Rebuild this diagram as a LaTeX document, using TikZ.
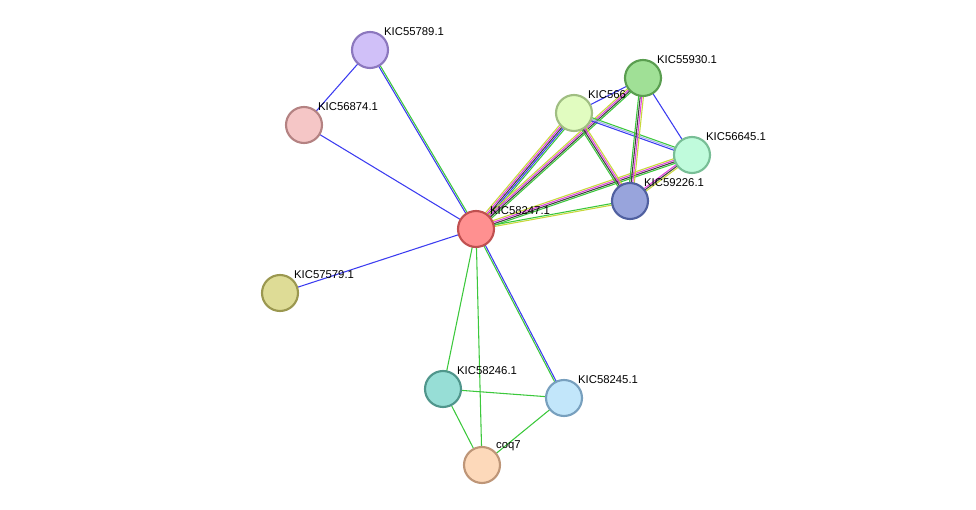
\documentclass[tikz,border=0pt]{standalone}
\usepackage{fontspec}
\setmainfont{Liberation Sans}
\usetikzlibrary{calc,backgrounds}
\definecolor{sgreen}{HTML}{3CC83C}
\definecolor{sblue}{HTML}{3C3CF0}
\definecolor{sblack}{HTML}{404040}
\definecolor{smag}{HTML}{E040E0}
\definecolor{syel}{HTML}{C8D83C}
\definecolor{slblue}{HTML}{A8B4F0}
\tikzset{
  prot/.style={circle, minimum size=36*0.75pt, inner sep=0, line width=1.6pt,
    label={[font=\fontsize{8.5}{9}\selectfont, inner sep=1pt, label distance=-1pt]45:#1}},
  edge/.style={line width=0.8pt}
}
\newcommand\link[3]{%
  \foreach \c [count=\i] in {#3} {\global\let\nlink\i}
  \foreach \c [count=\i] in {#3} {
    \pgfmathsetmacro\off{(\i-(\nlink+1)/2)*1.2}
    \draw[edge,\c] ($(#1)!\off pt!90:(#2)$) -- ($(#2)!\off pt!-90:(#1)$);
  }}
\begin{document}
\begin{tikzpicture}[x=0.75pt,y=-0.75pt]
\useasboundingbox (0,0) rectangle (976,510);
% proteins
\node[prot=KIC55789.1, fill={rgb,255:red,208;green,192;blue,248}, draw={rgb,255:red,140;green,120;blue,190}] (p55789) at (370,50) {};
\node[prot=KIC56874.1, fill={rgb,255:red,245;green,198;blue,198}, draw={rgb,255:red,180;green,130;blue,130}] (p56874) at (304,125) {};
\node[prot=KIC58247.1, fill={rgb,255:red,255;green,144;blue,144}, draw={rgb,255:red,192;green,80;blue,80}] (p58247) at (476,229) {};
\node[prot=KIC57579.1, fill={rgb,255:red,222;green,220;blue,150}, draw={rgb,255:red,155;green,152;blue,80}] (p57579) at (280,293) {};
\node[prot=KIC58246.1, fill={rgb,255:red,151;green,222;blue,214}, draw={rgb,255:red,80;green,150;blue,140}] (p58246) at (443,389) {};
\node[prot=KIC58245.1, fill={rgb,255:red,194;green,230;blue,250}, draw={rgb,255:red,120;green,160;blue,190}] (p58245) at (564,398) {};
\node[prot=coq7, fill={rgb,255:red,253;green,217;blue,186}, draw={rgb,255:red,190;green,150;blue,120}] (pcoq7) at (482,465) {};
\node[prot=KIC566, fill={rgb,255:red,225;green,252;blue,192}, draw={rgb,255:red,160;green,190;blue,130}] (p566) at (574,113) {};
\node[prot=KIC55930.1, fill={rgb,255:red,160;green,224;blue,150}, draw={rgb,255:red,90;green,158;blue,80}] (p55930) at (643,78) {};
\node[prot=KIC56645.1, fill={rgb,255:red,192;green,251;blue,220}, draw={rgb,255:red,120;green,190;blue,150}] (p56645) at (692,155) {};
\node[prot=KIC59226.1, fill={rgb,255:red,152;green,164;blue,220}, draw={rgb,255:red,80;green,96;blue,160}] (p59226) at (630,201) {};
% links
\begin{scope}[on background layer]
\link{p58247}{p55789}{sgreen,sblue}
\link{p58247}{p56874}{sblue}
\link{p56874}{p55789}{sblue}
\link{p58247}{p57579}{sblue}
\link{p58247}{p58246}{sgreen}
\link{p58247}{p58245}{sgreen,sblue}
\link{p58247}{pcoq7}{sgreen}
\link{p58246}{p58245}{sgreen}
\link{p58246}{pcoq7}{sgreen}
\link{p58245}{pcoq7}{sgreen}
\link{p58247}{p566}{sgreen,sblue,sblack,smag,syel}
\link{p58247}{p55930}{sgreen,sblack,smag,syel}
\link{p58247}{p56645}{sgreen,sblack,smag,syel}
\link{p58247}{p59226}{syel,sgreen}
\link{p566}{p55930}{sblue}
\link{p566}{p56645}{sblue,slblue,sgreen}
\link{p566}{p59226}{sgreen,sblack,smag,syel}
\link{p55930}{p59226}{sgreen,sblack,smag,syel}
\link{p55930}{p56645}{sblue}
\link{p56645}{p59226}{smag,sblack,syel}
\end{scope}
\end{tikzpicture}
\end{document}
